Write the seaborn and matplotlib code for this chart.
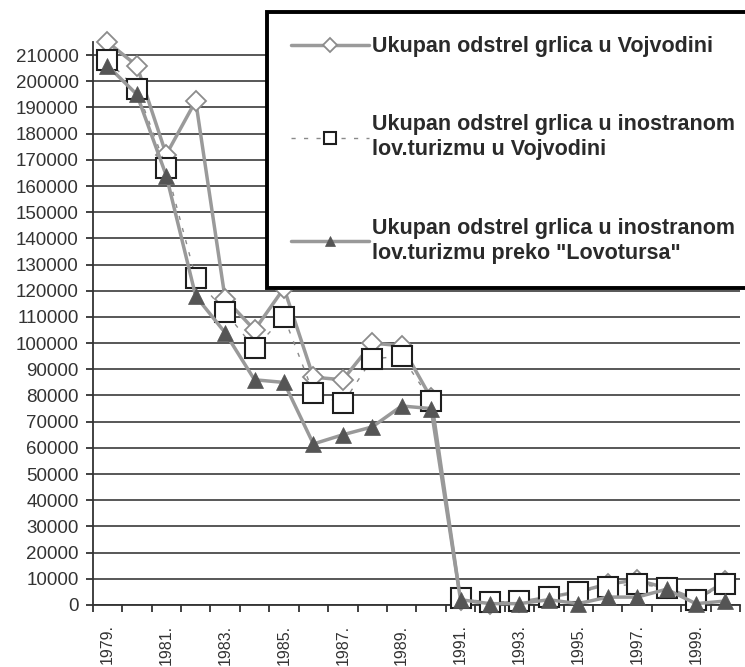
import numpy as np
import matplotlib.pyplot as plt
import seaborn as sns

years = [1979, 1980, 1981, 1982, 1983, 1984, 1985, 1986, 1987, 1988, 1989,
         1990, 1991, 1992, 1993, 1994, 1995, 1996, 1997, 1998, 1999, 2000]

# Ukupan odstrel grlica u Vojvodini
total_vojvodina = [215000, 206000, 172000, 192500, 117000, 105000, 121000,
                   87000, 86000, 100000, 99000, 79000, 2000, 500, 1000,
                   3000, 5000, 8000, 9500, 6500, 2000, 9000]
# Ukupan odstrel u inostranom lov. turizmu u Vojvodini
foreign_vojvodina = [208000, 197000, 167000, 125000, 112000, 98000, 110000,
                     81000, 77000, 94000, 95000, 78000, 2500, 1000, 1500,
                     3000, 5000, 7000, 8000, 6500, 2000, 8000]
# Ukupan odstrel u inostranom lov. turizmu preko "Lovotursa"
foreign_lovotours = [206000, 195000, 164000, 118000, 104000, 86000, 85000,
                     61500, 65000, 68000, 76000, 75000, 2000, 500, 500,
                     2000, 500, 3000, 3000, 6000, 500, 1500]

labels = [
    "Ukupan odstrel grlica u Vojvodini",
    "Ukupan odstrel grlica u inostranom\nlov.turizmu u Vojvodini",
    "Ukupan odstrel grlica u inostranom\nlov.turizmu preko \"Lovotursa\"",
]

sns.set_style("white")
plt.rcParams["font.family"] = ["Liberation Sans", "DejaVu Sans"]

fig = plt.figure(figsize=(7.45, 6.67), dpi=100)
ax = fig.add_axes([0.1244, 0.093, 0.869, 0.844])

pos = np.arange(len(years))

sns.lineplot(x=pos, y=total_vojvodina, ax=ax, color="#9a9a9a", linewidth=2.5,
             marker="D", markersize=10.5, markerfacecolor="white",
             markeredgecolor="#8c8c8c", markeredgewidth=1.3,
             label=labels[0], zorder=3, clip_on=False)
sns.lineplot(x=pos, y=foreign_vojvodina, ax=ax, color="#8a8a8a", linewidth=1.0,
             linestyle=(0, (3, 6)), marker="s", markersize=14,
             markerfacecolor="white", markeredgecolor="#1e1e1e",
             markeredgewidth=1.5, label=labels[1], zorder=4, clip_on=False)
sns.lineplot(x=pos, y=foreign_lovotours, ax=ax, color="#999999", linewidth=2.5,
             marker="^", markersize=11, markerfacecolor="#555555",
             markeredgecolor="#555555", markeredgewidth=0.5,
             label=labels[2], zorder=5, clip_on=False)

ax.set_xlim(-0.5, len(years) - 0.5)
ax.set_ylim(0, 215000)
ax.set_yticks(np.arange(0, 210001, 10000))
ax.yaxis.grid(True, color="#4a4a4a", linewidth=1.3)
ax.xaxis.grid(False)
ax.set_axisbelow(True)

# category boundaries carry tick marks, labels sit in the middle
ax.set_xticks(np.arange(-0.5, len(years), 1.0))
ax.set_xticklabels([])
ax.set_xticks(pos[::2], minor=True)
ax.set_xticklabels([f"{y}." for y in years[::2]], minor=True, rotation=90,
                   fontsize=11.5, color="#333333")
ax.tick_params(axis="x", which="major", length=5, width=1.3, color="#333333",
               direction="out", bottom=True)
ax.tick_params(axis="x", which="minor", length=0, pad=14, bottom=True)
ax.tick_params(axis="y", length=5, width=1.3, color="#333333", pad=5,
               labelsize=13.5, labelcolor="#333333", left=True)

for side in ["top", "right"]:
    ax.spines[side].set_visible(False)
for side in ["left", "bottom"]:
    ax.spines[side].set_color("#333333")
    ax.spines[side].set_linewidth(1.3)

leg = ax.legend(loc="upper left", bbox_to_anchor=(267 / 745, 1 - 12 / 667),
                bbox_transform=fig.transFigure,
                prop={"weight": "bold", "size": 15.5}, frameon=True,
                fancybox=False, handlelength=3.6, handletextpad=0.15,
                borderpad=1.12, labelspacing=2.66, borderaxespad=0)
leg.get_frame().set_edgecolor("black")
leg.get_frame().set_linewidth(2.8)
leg.get_frame().set_facecolor("white")
leg.get_frame().set_alpha(1)
leg.set_zorder(10)
for t in leg.get_texts():
    t.set_linespacing(1.25)
    t.set_color("#2a2a2a")
for h in leg.legend_handles:
    h.set_markersize(h.get_markersize() * 0.65)

fig.savefig("out.png", dpi=100)
